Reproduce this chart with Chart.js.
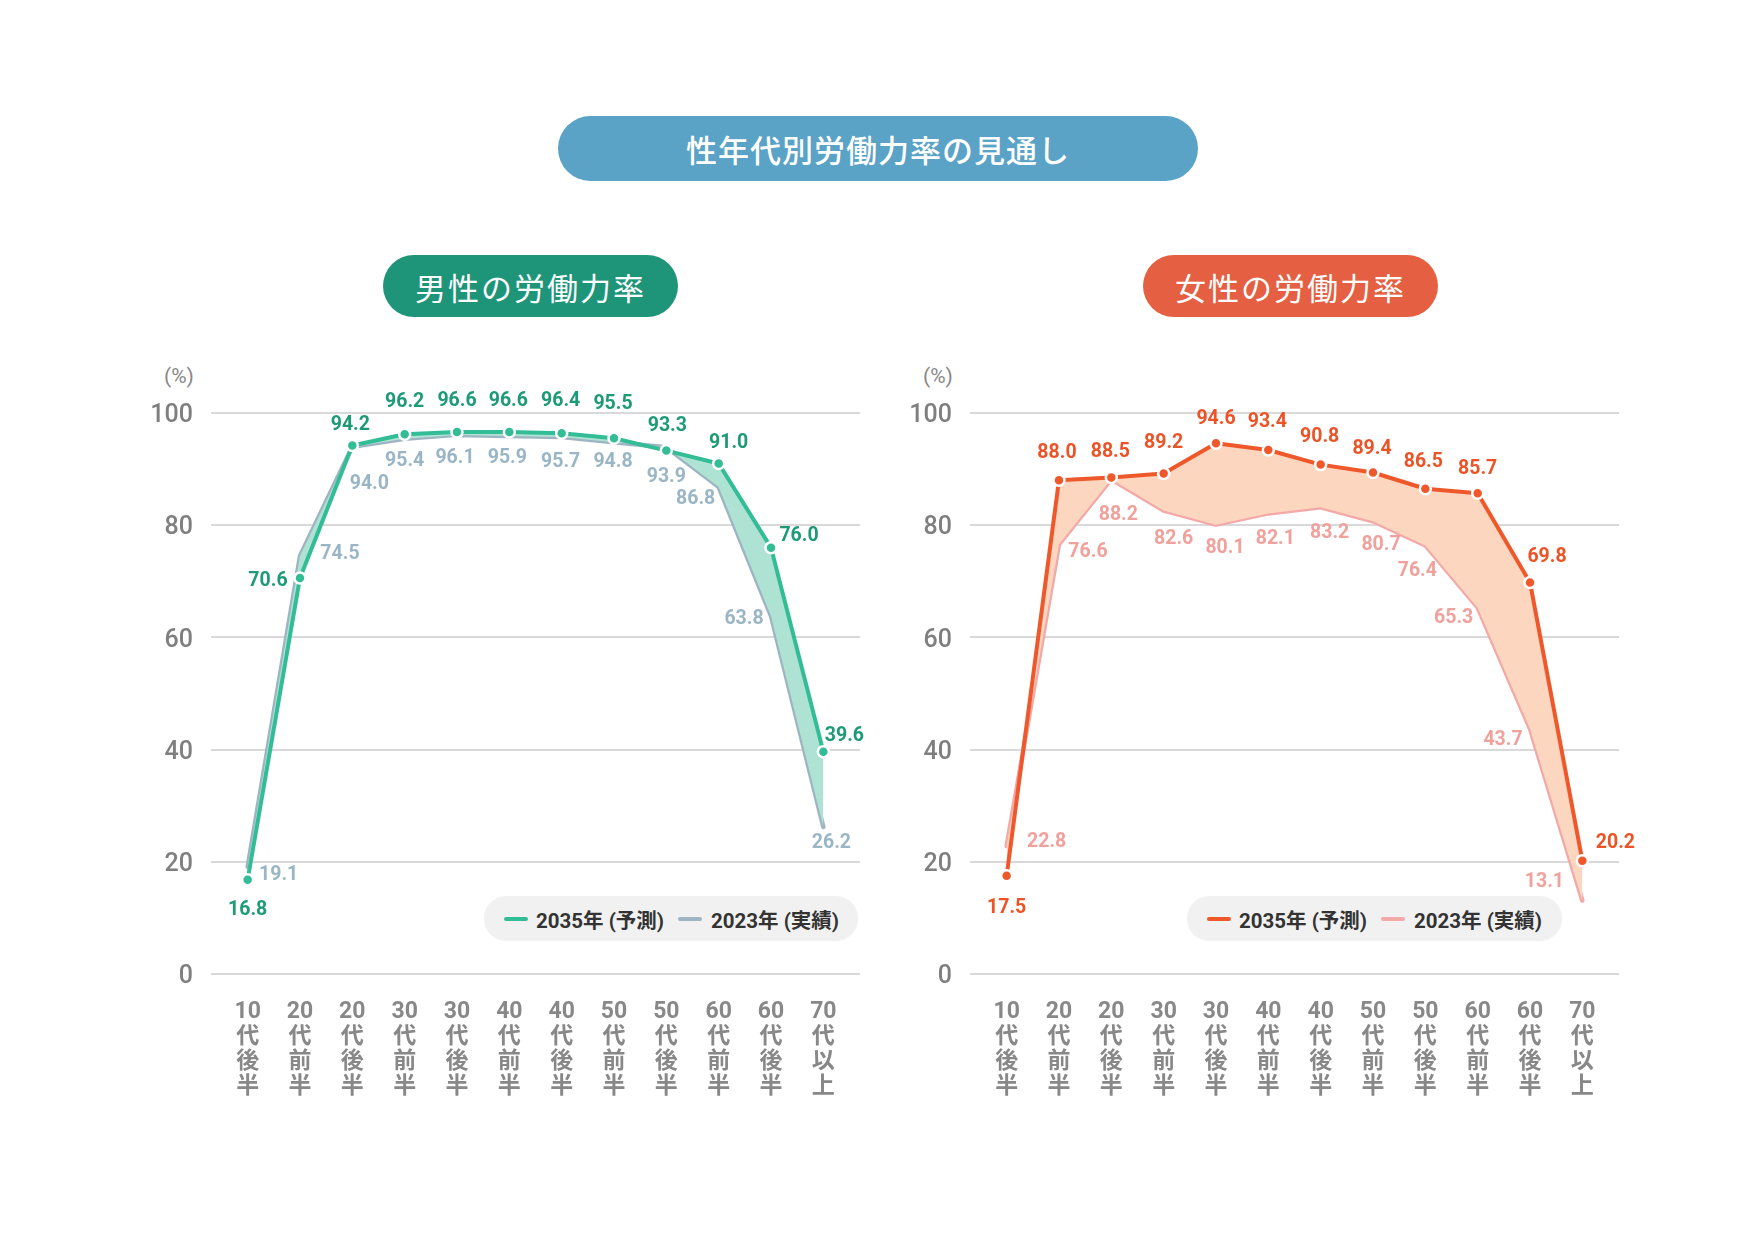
<!DOCTYPE html>
<html lang="ja">
<head>
<meta charset="utf-8">
<script src="https://cdn.jsdelivr.net/npm/chart.js@4.4.1/dist/chart.umd.min.js"></script>
<style>
  html, body { margin:0; padding:0; background:#fff; }
  body { width:1756px; height:1235px; position:relative; overflow:hidden;
         font-family: Roboto, "Noto Sans CJK JP", sans-serif; }
  .pill { position:absolute; color:#fff; display:flex; align-items:center; justify-content:center;
          font-family: "Noto Sans CJK JP", sans-serif; font-weight:400; }
  .unit { position:absolute; color:#888; font-size:21px; transform:translate(-50%,-50%); }
  .legend { position:absolute; background:#f1f1f1; border-radius:22px; display:flex; align-items:center;
            font-family: Roboto, "Noto Sans CJK JP", sans-serif; font-weight:700; font-size:20.5px; color:#333; }
  .sw { display:inline-block; width:24px; height:4px; border-radius:2px; }
  canvas { position:absolute; }
</style>
</head>
<body>
<div class="pill" id="title" style="left:558px;top:116px;width:640px;height:65px;border-radius:33px;background:#5aa2c6;font-size:31px;letter-spacing:1px;font-weight:500;"></div>
<div class="pill" id="maleTitle" style="left:383px;top:255px;width:295px;height:62px;border-radius:31px;background:#1e9478;font-size:31px;letter-spacing:2px;"></div>
<div class="pill" id="femaleTitle" style="left:1143px;top:255px;width:295px;height:62px;border-radius:31px;background:#e55f43;font-size:31px;letter-spacing:2px;"></div>
<div class="unit" style="left:179px;top:376px;">(%)</div>
<div class="unit" style="left:938px;top:376px;">(%)</div>
<canvas id="male" width="760" height="774" style="left:130px;top:340px;"></canvas>
<canvas id="female" width="760" height="774" style="left:889px;top:340px;"></canvas>
<div class="legend" id="maleLegend" style="left:484px;top:896px;width:374px;height:45px;"></div>
<div class="legend" id="femaleLegend" style="left:1187px;top:896px;width:375px;height:45px;"></div>
<script>
// ---- data ----
const mainTitle = '性年代別労働力率の見通し';
const maleTitle = '男性の労働力率';
const femaleTitle = '女性の労働力率';
const categories = ['10代後半','20代前半','20代後半','30代前半','30代後半','40代前半','40代後半','50代前半','50代後半','60代前半','60代後半','70代以上'];
const seriesLabels = ['2035年 (予測)', '2023年 (実績)'];
const yTicks = [0, 20, 40, 60, 80, 100];
const male2035   = [16.8, 70.6, 94.2, 96.2, 96.6, 96.6, 96.4, 95.5, 93.3, 91.0, 76.0, 39.6];
const male2023   = [19.1, 74.5, 94.0, 95.4, 96.1, 95.9, 95.7, 94.8, 93.9, 86.8, 63.8, 26.2];
const female2035 = [17.5, 88.0, 88.5, 89.2, 94.6, 93.4, 90.8, 89.4, 86.5, 85.7, 69.8, 20.2];
const female2023 = [22.8, 76.6, 88.2, 82.6, 80.1, 82.1, 83.2, 80.7, 76.4, 65.3, 43.7, 13.1];

// ---- label placement (pixel offsets from each point) ----
const male2035Off = [[0,30],[-32,3],[-2,-20],[0,-32],[0,-31],[-1,-31],[-1,-32],[-1,-34],[1,-24],[10,-20],[28,-12],[21,-16]];
const male2023Off = [[31,8],[40,-2],[17,37],[0,22],[-2,23],[-2,22],[-1,25],[-1,20],[0,30],[-23,12],[-27,3],[8,16]];
const female2035Off = [[0,32],[-2,-27],[-1,-25],[0,-30],[0,-24],[-1,-28],[-1,-27],[-1,-23],[-2,-27],[0,-24],[17,-25],[33,-18]];
const female2023Off = [[40,-4],[29,8],[7,36],[10,29],[9,23],[7,26],[9,26],[8,24],[-8,26],[-24,10],[-27,11],[-38,-18]];

document.getElementById('title').textContent = mainTitle;
document.getElementById('maleTitle').textContent = maleTitle;
document.getElementById('femaleTitle').textContent = femaleTitle;

function buildLegend(id, c1, c2) {
  const el = document.getElementById(id);
  el.innerHTML =
    `<span class="sw" style="background:${c1};margin-left:20px;"></span>` +
    `<span style="margin-left:8px;">${seriesLabels[0]}</span>` +
    `<span class="sw" style="background:${c2};margin-left:14px;"></span>` +
    `<span style="margin-left:9px;">${seriesLabels[1]}</span>`;
}

const valueLabels = {
  id: 'valueLabels',
  afterDatasetsDraw(chart, args, opts) {
    const ctx = chart.ctx;
    ctx.save();
    ctx.font = '700 19.5px Roboto, "Noto Sans CJK JP", sans-serif';
    ctx.textAlign = 'center';
    ctx.textBaseline = 'middle';
    chart.data.datasets.forEach((ds, di) => {
      const meta = chart.getDatasetMeta(di);
      const offs = opts.offsets[di];
      ctx.fillStyle = opts.colors[di];
      meta.data.forEach((pt, i) => {
        const v = ds.data[i].y;
        ctx.fillText(v.toFixed(1), pt.x + offs[i][0], pt.y + offs[i][1]);
      });
    });
    ctx.restore();
  }
};

function splitLabel(s) {
  return [s.slice(0, 2)].concat(s.slice(2).split(''));
}

function makeChart(id, d1, d2, lineC1, lineC2, fillC, labelC1, labelC2, off1, off2) {
  const toPts = arr => arr.map((v, i) => ({x: i, y: v}));
  return new Chart(document.getElementById(id), {
    type: 'line',
    data: {
      datasets: [
        { label: seriesLabels[0], data: toPts(d1), borderColor: lineC1, borderWidth: 4,
          pointRadius: 5.5, pointBackgroundColor: lineC1, pointBorderColor: '#fff', pointBorderWidth: 2.5,
          pointHoverRadius: 5.5, fill: { target: '+1', above: fillC, below: fillC },
          backgroundColor: fillC, tension: 0, borderJoinStyle: 'round', borderCapStyle: 'round' },
        { label: seriesLabels[1], data: toPts(d2), borderColor: lineC2, borderWidth: 4.5,
          pointRadius: 0, fill: false, tension: 0, borderJoinStyle: 'round', borderCapStyle: 'round' }
      ]
    },
    options: {
      responsive: false,
      animation: false,
      devicePixelRatio: 1,
      layout: { padding: { left: 0, right: 30, top: 73, bottom: 0 } },
      plugins: {
        legend: { display: false },
        tooltip: { enabled: false },
        valueLabels: { offsets: [off1, off2], colors: [labelC1, labelC2] }
      },
      scales: {
        x: {
          type: 'linear', min: -0.7, max: 11.7,
          afterBuildTicks: s => { s.ticks = categories.map((_, i) => ({ value: i })); },
          afterFit: s => { s.height = 140; },
          grid: { display: false }, border: { display: false },
          ticks: {
            autoSkip: false, maxRotation: 0, minRotation: 0, padding: 18,
            color: '#888',
            font: { family: 'Roboto, "Noto Sans CJK JP", sans-serif', size: 23, weight: '700', lineHeight: 1.08 },
            callback: v => splitLabel(categories[v])
          }
        },
        y: {
          min: 0, max: 100,
          afterBuildTicks: s => { s.ticks = yTicks.map(v => ({ value: v })); },
          afterFit: s => { s.width = 81; },
          grid: { color: '#d9d9d9', lineWidth: 2, drawTicks: false },
          border: { display: false },
          ticks: {
            padding: 18, color: '#7f7f7f', labelOffset: 3,
            font: { family: 'Roboto, sans-serif', size: 25, weight: '500' }
          }
        }
      }
    },
    plugins: [valueLabels]
  });
}

makeChart('male', male2035, male2023, '#33bd96', '#9eb4c2', '#aee3d3', '#1d9a77', '#9ab6c6', male2035Off, male2023Off);
makeChart('female', female2035, female2023, '#ef582b', '#f2a9a7', '#fdd6bf', '#ec5326', '#f0a19c', female2035Off, female2023Off);
buildLegend('maleLegend', '#33bd96', '#9eb4c2');
buildLegend('femaleLegend', '#ef582b', '#f2a9a7');
</script>
</body>
</html>
